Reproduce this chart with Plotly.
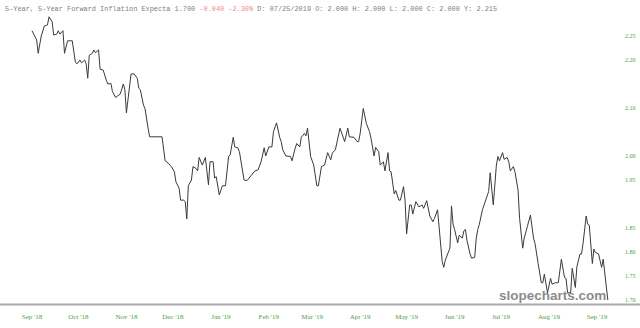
import plotly.graph_objects as go

dates = [
    "2018-09-01","2018-09-04","2018-09-05","2018-09-07","2018-09-09","2018-09-11","2018-09-12","2018-09-14",
    "2018-09-15","2018-09-17","2018-09-18","2018-09-19","2018-09-21","2018-09-22","2018-09-24","2018-09-27",
    "2018-09-29","2018-09-30","2018-10-02","2018-10-03","2018-10-05","2018-10-06","2018-10-07","2018-10-08",
    "2018-10-10","2018-10-11","2018-10-12","2018-10-14","2018-10-15","2018-10-17","2018-10-19","2018-10-20",
    "2018-10-22","2018-10-23","2018-10-25","2018-10-27","2018-10-28","2018-10-30","2018-10-31","2018-11-01",
    "2018-11-02","2018-11-04","2018-11-06","2018-11-08","2018-11-09","2018-11-10","2018-11-12","2018-11-13",
    "2018-11-15","2018-11-16","2018-11-24","2018-11-26","2018-11-28","2018-11-30","2018-12-02","2018-12-03",
    "2018-12-05","2018-12-06","2018-12-08","2018-12-09","2018-12-10","2018-12-11","2018-12-13","2018-12-14",
    "2018-12-16","2018-12-17","2018-12-18","2018-12-20","2018-12-22","2018-12-24","2018-12-25","2018-12-27",
    "2018-12-28","2018-12-29","2018-12-31","2019-01-02","2019-01-04","2019-01-06","2019-01-07","2019-01-09",
    "2019-01-10","2019-01-12","2019-01-13","2019-01-14","2019-01-16","2019-01-18","2019-01-20","2019-01-22",
    "2019-01-23","2019-01-25","2019-01-26","2019-01-27","2019-01-29","2019-01-30","2019-02-01","2019-02-03",
    "2019-02-04","2019-02-06","2019-02-08","2019-02-09","2019-02-10","2019-02-12","2019-02-15","2019-02-16",
    "2019-02-18","2019-02-19","2019-02-21","2019-02-22","2019-02-24","2019-02-25","2019-02-26","2019-02-28",
    "2019-03-02","2019-03-04","2019-03-05","2019-03-07","2019-03-09","2019-03-11","2019-03-13","2019-03-14",
    "2019-03-16","2019-03-17","2019-03-19","2019-03-22","2019-03-24","2019-03-25","2019-03-28","2019-03-30",
    "2019-03-31","2019-04-01","2019-04-03","2019-04-05","2019-04-07","2019-04-08","2019-04-10","2019-04-11",
    "2019-04-13","2019-04-14","2019-04-16","2019-04-17","2019-04-19","2019-04-20","2019-04-21","2019-04-23",
    "2019-04-24","2019-04-26","2019-04-27","2019-04-29","2019-04-30","2019-05-01","2019-05-03","2019-05-04",
    "2019-05-05","2019-05-07","2019-05-09","2019-05-11","2019-05-12","2019-05-14","2019-05-16","2019-05-18",
    "2019-05-19","2019-05-21","2019-05-22","2019-05-24","2019-05-25","2019-05-26","2019-05-29","2019-05-30",
    "2019-05-31","2019-06-01","2019-06-03","2019-06-04","2019-06-06","2019-06-07","2019-06-08","2019-06-09",
    "2019-06-11","2019-06-12","2019-06-14","2019-06-15","2019-06-16","2019-06-17","2019-06-19","2019-06-21",
    "2019-06-22","2019-06-23","2019-06-24","2019-06-26","2019-06-28","2019-06-29","2019-06-30","2019-07-02",
    "2019-07-03","2019-07-05","2019-07-06","2019-07-07","2019-07-09","2019-07-10","2019-07-12","2019-07-13",
    "2019-07-15","2019-07-16","2019-07-18","2019-07-20","2019-07-22","2019-07-23","2019-07-25","2019-07-27",
    "2019-07-28","2019-07-29","2019-07-31","2019-08-01","2019-08-02","2019-08-03","2019-08-05","2019-08-07",
    "2019-08-09","2019-08-11","2019-08-12","2019-08-13","2019-08-15","2019-08-16","2019-08-18","2019-08-19",
    "2019-08-21","2019-08-22","2019-08-23","2019-08-25","2019-08-26","2019-08-27","2019-08-29","2019-08-30",
    "2019-08-31","2019-09-02","2019-09-04","2019-09-05","2019-09-07","2019-09-08",
]

values = [
    2.261,2.242,2.214,2.250,2.271,2.273,2.290,2.280,
    2.252,2.254,2.261,2.254,2.261,2.214,2.240,2.240,
    2.196,2.192,2.200,2.194,2.200,2.192,2.162,2.210,
    2.214,2.221,2.215,2.221,2.181,2.179,2.158,2.150,
    2.151,2.134,2.122,2.127,2.129,2.150,2.138,2.090,
    2.120,2.171,2.171,2.162,2.141,2.138,2.106,2.099,
    2.058,2.040,2.040,1.990,1.985,1.978,1.967,1.946,
    1.933,1.908,1.908,1.905,1.869,1.938,1.950,1.978,
    1.974,1.969,1.997,1.981,1.997,1.940,1.988,1.988,
    1.954,1.957,1.919,1.938,1.938,1.999,2.002,2.039,
    2.019,2.017,2.009,1.988,1.950,1.949,1.957,1.963,
    1.969,1.971,1.981,1.988,2.017,2.000,2.019,2.019,
    2.051,2.069,2.039,2.030,2.013,2.000,1.999,1.990,
    2.016,2.026,2.019,2.039,2.047,2.042,2.058,1.999,
    1.981,1.938,1.938,1.978,1.981,2.007,1.992,2.006,
    2.013,2.026,2.058,2.030,2.058,2.040,2.039,2.030,
    2.030,2.047,2.099,2.068,2.051,2.037,2.000,2.018,
    2.009,1.981,1.988,1.969,2.007,1.969,1.967,1.921,
    1.928,1.908,1.908,1.936,1.908,1.838,1.898,1.898,
    1.879,1.905,1.894,1.898,1.891,1.907,1.875,1.863,
    1.870,1.888,1.856,1.780,1.768,1.783,1.808,1.896,
    1.858,1.847,1.819,1.835,1.829,1.844,1.847,1.824,
    1.796,1.787,1.789,1.829,1.847,1.858,1.888,1.908,
    1.917,1.926,1.965,1.898,1.981,1.999,1.990,2.007,
    1.993,1.997,1.988,1.969,1.978,1.967,1.929,1.870,
    1.808,1.829,1.853,1.877,1.829,1.817,1.776,1.736,
    1.736,1.754,1.715,1.731,1.745,1.733,1.736,1.736,
    1.785,1.747,1.745,1.715,1.715,1.766,1.726,1.769,
    1.796,1.796,1.818,1.875,1.858,1.856,1.776,1.806,
    1.799,1.796,1.768,1.785,1.735,1.700,
]

month_ticks = ["2018-09-01","2018-10-01","2018-11-01","2018-12-01","2019-01-01","2019-02-01",
               "2019-03-01","2019-04-01","2019-05-01","2019-06-01","2019-07-01","2019-08-01","2019-09-01"]
month_labels = ["Sep '18","Oct '18","Nov '18","Dec '18","Jan '19","Feb '19","Mar '19",
                "Apr '19","May '19","Jun '19","Jul '19","Aug '19","Sep '19"]

y_ticks = [2.25, 2.20, 2.10, 2.00, 1.95, 1.85, 1.80, 1.75, 1.70]
y_labels = ["2.25", "2.20", "2.10", "2.00", "1.95", "1.85", "1.80", "1.75", "1.70"]

title_name = "5-Year, 5-Year Forward Inflation Expecta"
last_value = "1.700"
change_abs = "-0.040"
change_pct = "-2.30%"
ohlc_text = "D: 07/25/2019 O: 2.000 H: 2.000 L: 2.000 C: 2.000 Y: 2.215"

fig = go.Figure()
fig.add_trace(go.Scatter(x=dates, y=values, mode="lines",
                         line=dict(color="#3a3a3a", width=1), hoverinfo="skip"))

GREEN = "#4a9e4a"
PLOT_H = 293  # 328 - 12 - 23
fig.update_layout(
    width=640, height=328,
    margin=dict(l=0, r=20, t=12, b=23),
    paper_bgcolor="white", plot_bgcolor="white",
    showlegend=False,
    xaxis=dict(
        type="date",
        range=["2018-08-11 08:00", "2019-09-15 20:40"],
        tickvals=month_ticks, ticktext=month_labels,
        tickfont=dict(family="Liberation Serif", size=7, color=GREEN),
        showgrid=False, zeroline=False, showline=False, ticks="",
        ticklabelstandoff=6,
    ),
    yaxis=dict(
        range=[1.6896, 2.30],
        side="right",
        tickvals=y_ticks, ticktext=y_labels,
        tickfont=dict(family="Liberation Serif", size=6, color=GREEN),
        showgrid=False, zeroline=False, showline=False, ticks="",
        ticklabelstandoff=4,
    ),
)

fig.add_shape(type="line", xref="paper", yref="paper", x0=0, x1=640/620, y0=0.002, y1=0.002,
              line=dict(color="#aaaaaa", width=2), layer="below")

header = (f"<span style='color:#808080'>{title_name} {last_value} </span>"
          f"<span style='color:#e98b8b'>{change_abs} {change_pct}</span>"
          f"<span style='color:#808080'> {ohlc_text}</span>")
fig.add_annotation(text=header, xref="paper", yref="paper", x=3/620, y=(305 - 9) / PLOT_H,
                   xanchor="left", yanchor="middle", showarrow=False,
                   font=dict(family="Liberation Mono", size=6.9, color="#808080"))

fig.add_annotation(text="<b>slopecharts.com</b>", xref="paper", yref="paper",
                   x=608/620, y=9.5/PLOT_H, xanchor="right", yanchor="middle", showarrow=False,
                   font=dict(family="Liberation Sans", size=13.5, color="#8c8c8c"))

fig.write_html("out.html")
